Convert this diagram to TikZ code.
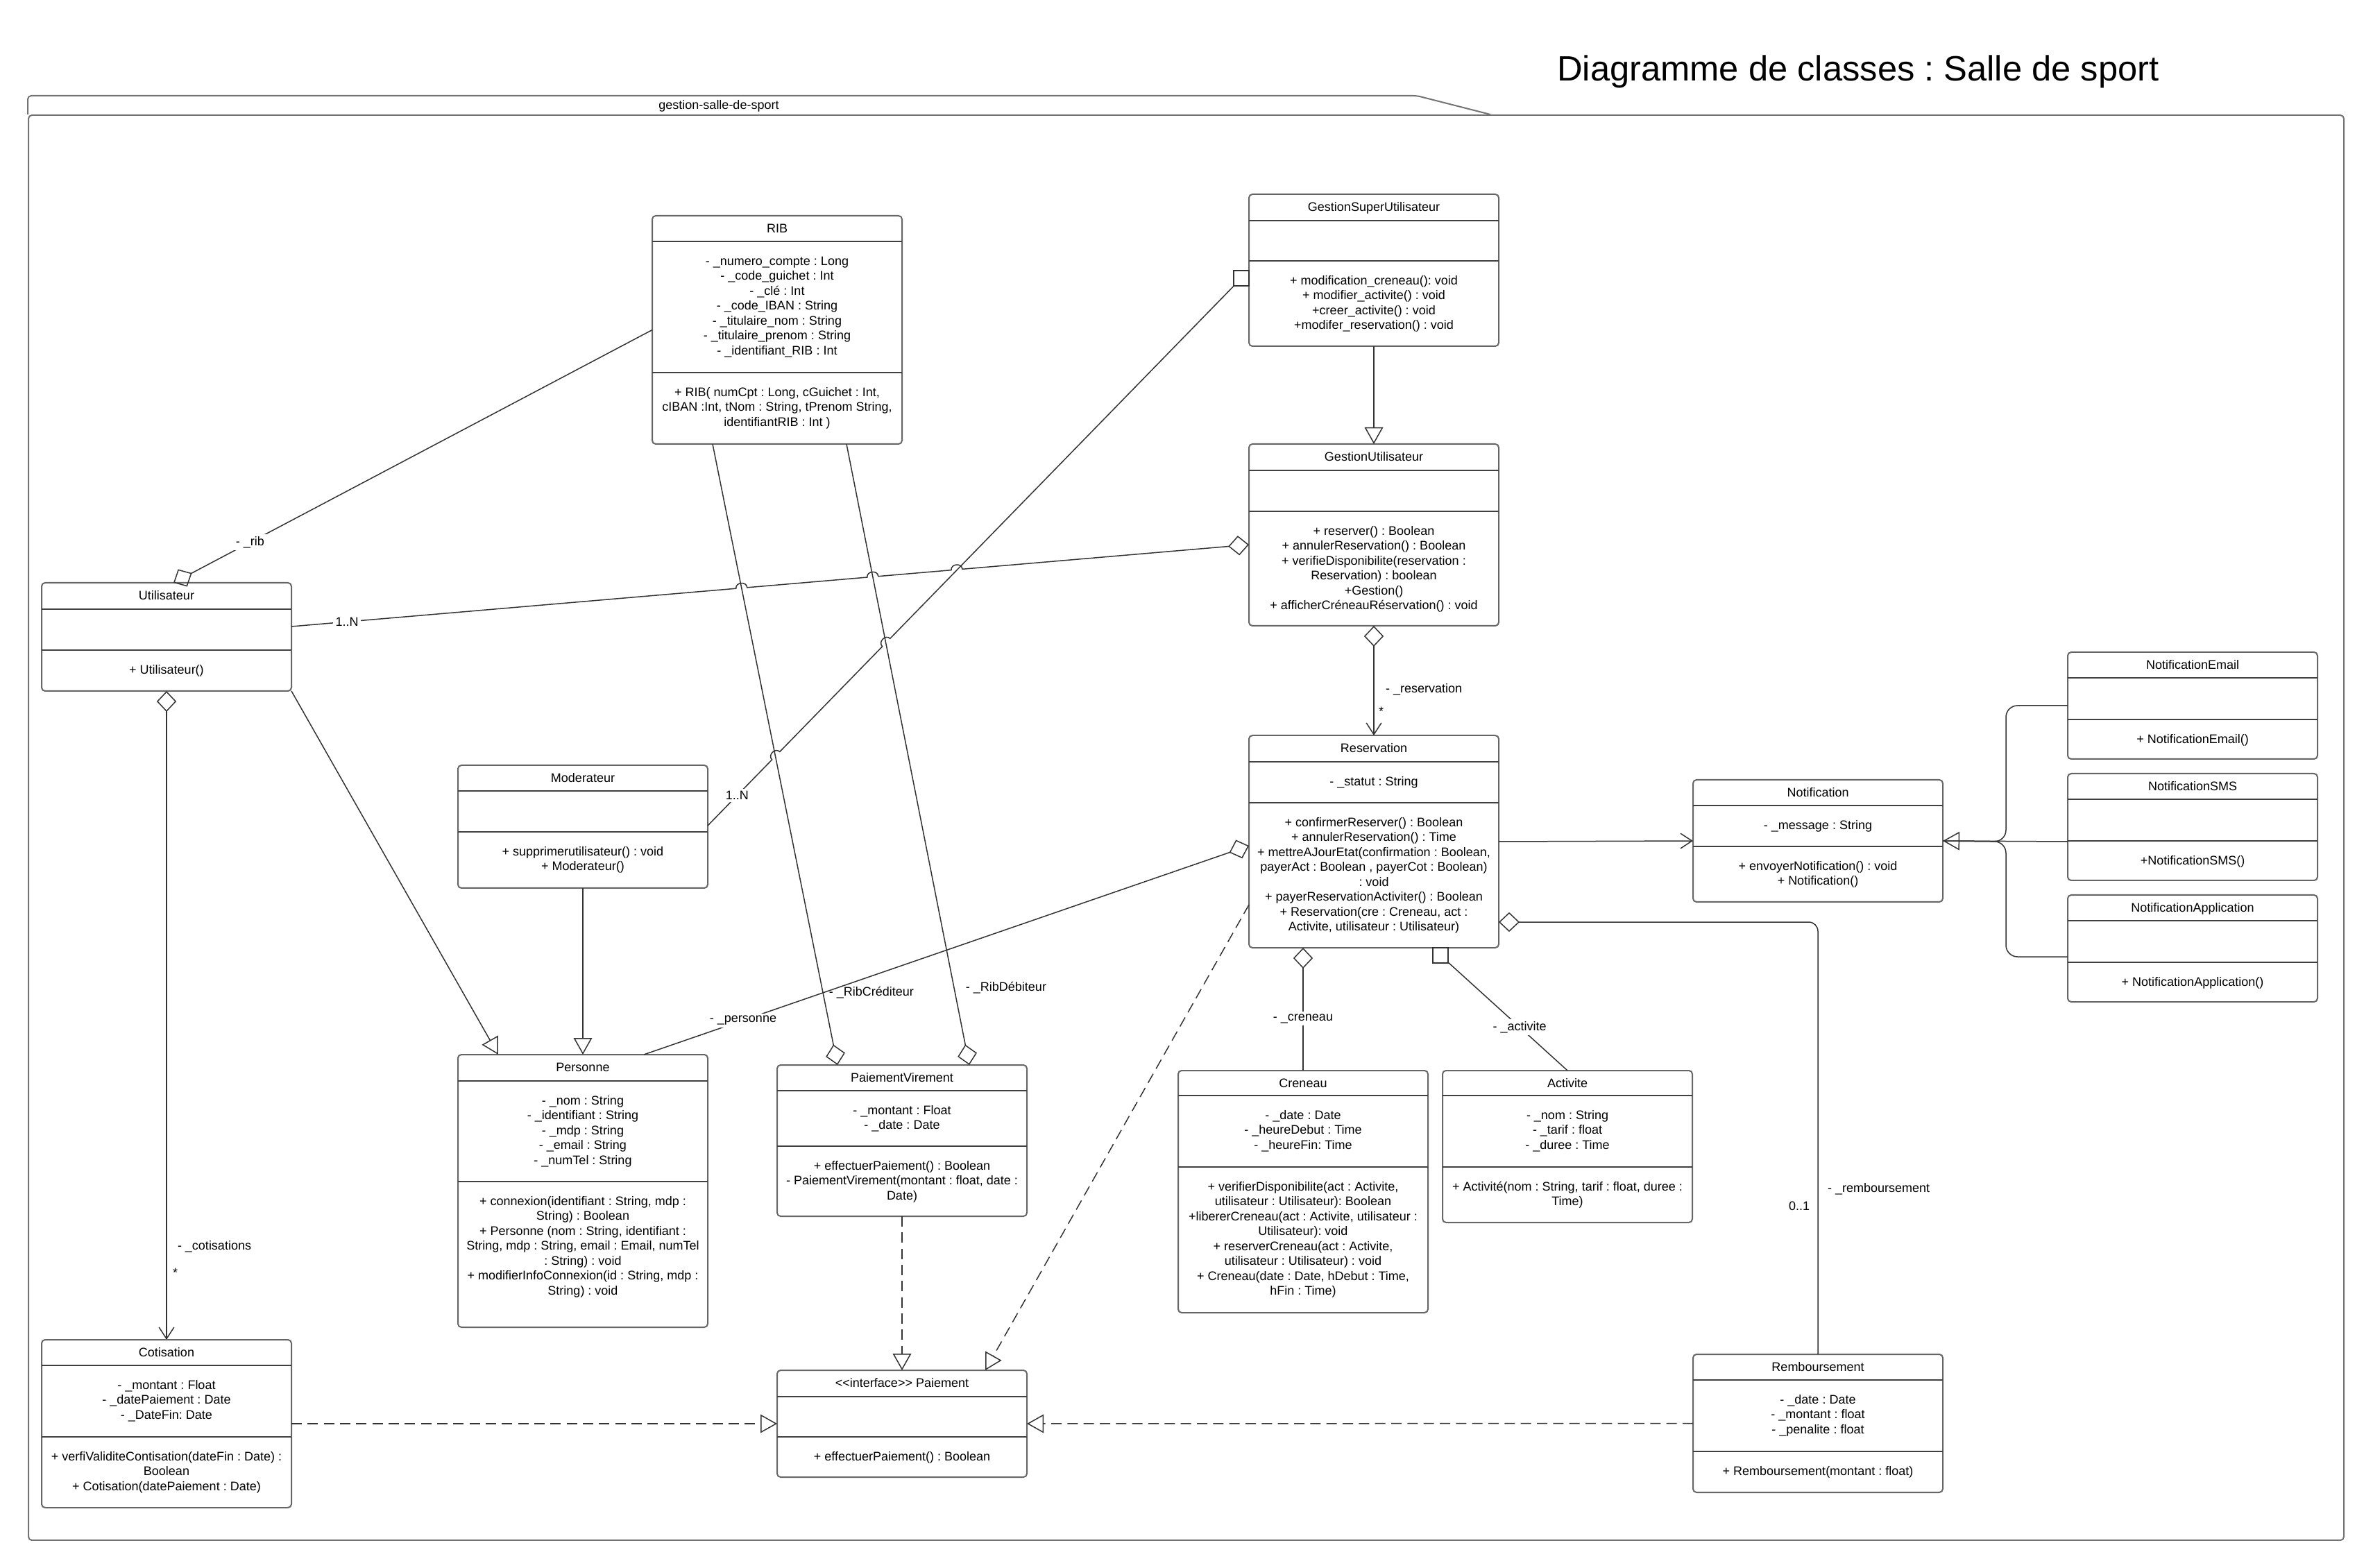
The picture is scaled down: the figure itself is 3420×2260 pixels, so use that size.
\documentclass[tikz,border=0pt]{standalone}
\usepackage{fontspec}
\setmainfont{Liberation Sans}
\usetikzlibrary{arrows.meta,calc}
\frenchspacing
\newcommand{\boxfont}{\fontsize{5.4}{6.45}\selectfont}
\tikzset{
  classbox/.style={draw=black!60, line width=0.6pt, rounded corners=1.5pt, inner sep=0pt, outer sep=0pt},
  sepline/.style={draw=black!75, line width=0.5pt},
  ctext/.style={anchor=north, inner sep=0pt, align=center, font=\boxfont, text=black},
  conn/.style={draw=black!80, line width=0.45pt},
  dconn/.style={conn, dash pattern=on 4.5pt off 2.5pt},
  lbl/.style={font=\boxfont, inner sep=1pt, text=black},
  lblw/.style={lbl, fill=white},
  sqnode/.style={draw=black!80, line width=0.45pt, fill=white, minimum width=6.6pt, minimum height=6.6pt, inner sep=0pt, outer sep=0pt},
  udia/.tip={Diamond[open, length=9pt, width=8.5pt]},
  utri/.tip={Triangle[open, length=7.2pt, width=8pt]},
  uvee/.tip={Straight Barb[length=5pt, width=6.5pt]},
  pkgline/.style={draw=black!55, line width=0.6pt},
}
\newcommand{\umlbox}[7]{%
  \pgfmathsetmacro\ux{(#2+#4)/2}%
  \pgfmathsetmacro\uy{(#3+#5)/2}%
  \pgfmathsetmacro\uw{(#4-#2)*0.3}%
  \pgfmathsetmacro\uh{(#5-#3)*0.3}%
  \pgfmathsetmacro\ut{#3+8.5}%
  \pgfmathsetmacro\ua{#6+18.5}%
  \pgfmathsetmacro\um{#7+18.5}%
  \node[classbox, minimum width=\uw pt, minimum height=\uh pt] (#1) at (\ux,\uy) {};
  \draw[sepline] (#2,#6) -- (#4,#6);
  \draw[sepline] (#2,#7) -- (#4,#7);
  \coordinate (#1-t) at (\ux,\ut);
  \coordinate (#1-a) at (\ux,\ua);
  \coordinate (#1-m) at (\ux,\um);
}
\newcommand{\umltext}[4]{%
  \node[ctext] (#1-title) at (#1-t) {\strut #2};
  \node[ctext] (#1-attrs) at (#1-a) {\strut #3};
  \node[ctext] (#1-meth) at (#1-m) {\strut #4};
}
\begin{document}
\begin{tikzpicture}[x=0.3pt, y=-0.3pt]
\useasboundingbox (0,0) rectangle (3420,2260);
\fill[white] (0,0) rectangle (3420,2260);

% title and package
\node[font=\fontsize{15.2}{18}\selectfont, inner sep=0pt] (title) at (2678,103) {Diagramme de classes : Salle de sport};
\node[pkgline, rounded corners=1.5pt, minimum width=1001.1pt, minimum height=616.2pt, inner sep=0pt] (pkg) at (1709.5,1193) {};
\draw[pkgline, rounded corners=1.5pt] (pkg.north west) |- ($(pkg.north west)+(2002,-27)$) [sharp corners] -- ($(pkg.north west)+(2108,0)$);
\node[lbl] (pkgname) at (1036,153) {gestion-salle-de-sport};

% classes
\umlbox{RIB}{940}{311}{1300}{640}{348}{537}
\umltext{RIB}{RIB}{- \_numero\_compte : Long\\ - \_code\_guichet : Int\\ - \_clé : Int\\ - \_code\_IBAN : String\\ - \_titulaire\_nom : String\\ - \_titulaire\_prenom : String\\ - \_identifiant\_RIB : Int}{+ RIB( numCpt : Long, cGuichet : Int,\\ cIBAN :Int, tNom : String, tPrenom String,\\ identifiantRIB : Int )}

\umlbox{GSU}{1800}{280}{2160}{499}{318}{376}
\umltext{GSU}{GestionSuperUtilisateur}{}{+ modification\_creneau(): void\\ + modifier\_activite() : void\\ +creer\_activite() : void\\ +modifer\_reservation() : void}

\umlbox{GU}{1800}{640}{2160}{902}{678}{737}
\umltext{GU}{GestionUtilisateur}{}{+ reserver() : Boolean\\ + annulerReservation() : Boolean\\ + verifieDisponibilite(reservation :\\ Reservation) : boolean\\ +Gestion()\\ + afficherCréneauRéservation() : void}

\umlbox{Res}{1800}{1060}{2160}{1366}{1098}{1157}
\umltext{Res}{Reservation}{- \_statut : String}{+ confirmerReserver() : Boolean\\ + annulerReservation() : Time\\ + mettreAJourEtat(confirmation : Boolean,\\ payerAct : Boolean , payerCot : Boolean)\\ : void\\ + payerReservationActiviter() : Boolean\\ + Reservation(cre : Creneau, act :\\ Activite, utilisateur : Utilisateur)}

\umlbox{Util}{60}{840}{420}{996}{878}{937}
\umltext{Util}{Utilisateur}{}{+ Utilisateur()}

\umlbox{Mod}{660}{1103}{1020}{1280}{1140}{1199}
\umltext{Mod}{Moderateur}{}{+ supprimerutilisateur() : void\\ + Moderateur()}

\umlbox{Pers}{660}{1520}{1020}{1913}{1558}{1703}
\umltext{Pers}{Personne}{- \_nom : String\\ - \_identifiant : String\\ - \_mdp : String\\ - \_email : String\\ - \_numTel : String}{+ connexion(identifiant : String, mdp :\\ String) : Boolean\\ + Personne (nom : String, identifiant :\\ String, mdp : String, email : Email, numTel\\ : String) : void\\ + modifierInfoConnexion(id : String, mdp :\\ String) : void}

\umlbox{PV}{1120}{1535}{1480}{1753}{1572}{1652}
\umltext{PV}{PaiementVirement}{- \_montant : Float\\ - \_date : Date}{+ effectuerPaiement() : Boolean\\ - PaiementVirement(montant : float, date :\\ Date)}

\umlbox{Cren}{1698}{1543}{2058}{1892}{1579}{1682}
\umltext{Cren}{Creneau}{- \_date : Date\\ - \_heureDebut : Time\\ - \_heureFin: Time}{+ verifierDisponibilite(act : Activite,\\ utilisateur : Utilisateur): Boolean\\ +libererCreneau(act : Activite, utilisateur :\\ Utilisateur): void\\ + reserverCreneau(act : Activite,\\ utilisateur : Utilisateur) : void\\ + Creneau(date : Date, hDebut : Time,\\ hFin : Time)}

\umlbox{Act}{2079}{1543}{2439}{1762}{1579}{1682}
\umltext{Act}{Activite}{- \_nom : String\\ - \_tarif : float\\ - \_duree : Time}{+ Activité(nom : String, tarif : float, duree :\\ Time)}

\umlbox{Notif}{2440}{1124}{2800}{1300}{1161}{1220}
\umltext{Notif}{Notification}{- \_message : String}{+ envoyerNotification() : void\\ + Notification()}

\umlbox{NEmail}{2980}{940}{3340}{1094}{977}{1037}
\umltext{NEmail}{NotificationEmail}{}{+ NotificationEmail()}

\umlbox{NSMS}{2980}{1115}{3340}{1269}{1152}{1212}
\umltext{NSMS}{NotificationSMS}{}{+NotificationSMS()}

\umlbox{NApp}{2980}{1290}{3340}{1444}{1327}{1387}
\umltext{NApp}{NotificationApplication}{}{+ NotificationApplication()}

\umlbox{Cot}{60}{1931}{420}{2173}{1968}{2071}
\umltext{Cot}{Cotisation}{- \_montant : Float\\ - \_datePaiement : Date\\ - \_DateFin: Date}{+ verfiValiditeContisation(dateFin : Date) :\\ Boolean\\ + Cotisation(datePaiement : Date)}

\umlbox{Pay}{1120}{1975}{1480}{2129}{2013}{2071}
\umltext{Pay}{<\kern0pt<interface>\kern0pt> Paiement}{}{+ effectuerPaiement() : Boolean}

\umlbox{Remb}{2440}{1952}{2800}{2151}{1989}{2092}
\umltext{Remb}{Remboursement}{- \_date : Date\\ - \_montant : float\\ - \_penalite : float}{+ Remboursement(montant : float)}

% square ends
\node[sqnode] (sqGSU) at ($(GSU.north west)+(-11,121)$) {};
\node[sqnode] (sqRes) at ($(Res.south west)+(276,11)$) {};

% connector end points
\coordinate (cS) at ($(Util.north east)+(0,63)$);
\coordinate (cE) at ($(GU.north west)+(0,145)$);
\coordinate (dS) at ($(Mod.north east)+(0,87)$);

% connectors
\draw[conn, udia-] ($(Util.north west)+(190,0)$) -- node[lblw, pos=0.16] (lrib) {- \_rib} (RIB.west);
% Utilisateur -- GestionUtilisateur (with line hops)
\draw[conn, -udia] (cS)
  -- ($(cS)!0.4643!(cE)$) .. controls ($(cS)!0.4643!(cE)!2.8pt!90:(cE)$) and ($(cS)!0.4759!(cE)!2.8pt!-90:(cS)$) .. ($(cS)!0.4759!(cE)$)
  -- ($(cS)!0.6013!(cE)$) .. controls ($(cS)!0.6013!(cE)!2.8pt!90:(cE)$) and ($(cS)!0.6129!(cE)!2.8pt!-90:(cS)$) .. ($(cS)!0.6129!(cE)$)
  -- ($(cS)!0.6891!(cE)$) .. controls ($(cS)!0.6891!(cE)!2.8pt!90:(cE)$) and ($(cS)!0.7007!(cE)!2.8pt!-90:(cS)$) .. ($(cS)!0.7007!(cE)$)
  -- (cE);
\node[lblw] (lun1) at ($(cS)!0.058!(cE)$) {1..N};
% Moderateur -- GestionSuperUtilisateur (with line hops)
\draw[conn] (dS)
  -- ($(dS)!0.1204!(sqGSU)$) .. controls ($(dS)!0.1204!(sqGSU)!2.8pt!90:(sqGSU)$) and ($(dS)!0.1350!(sqGSU)!2.8pt!-90:(dS)$) .. ($(dS)!0.1350!(sqGSU)$)
  -- ($(dS)!0.3272!(sqGSU)$) .. controls ($(dS)!0.3272!(sqGSU)!2.8pt!90:(sqGSU)$) and ($(dS)!0.3418!(sqGSU)!2.8pt!-90:(dS)$) .. ($(dS)!0.3418!(sqGSU)$)
  -- (sqGSU);
\node[lblw] (lun2) at ($(dS)!0.055!(sqGSU)$) {1..N};
\draw[conn, udia-] ($(Res.north west)+(0,159)$) -- node[lblw, pos=0.836] (lpers) {- \_personne} ($(Pers.north west)+(268,0)$);
\draw[dconn, -utri] ($(Res.north west)+(0,244)$) -- ($(Pay.north west)+(300,0)$);
\draw[conn, -udia] ($(RIB.south west)+(87,0)$) -- ($(PV.north west)+(87,0)$);
\draw[conn, -udia] ($(RIB.south west)+(280,0)$) -- ($(PV.north west)+(277,0)$);
\node[lbl] (lcred) at (1256,1431) {- \_RibCréditeur};
\node[lbl] (ldeb) at (1450,1424) {- \_RibDébiteur};
\draw[conn, -utri] (Util.south east) -- ($(Pers.north west)+(58,0)$);
\draw[conn, -utri] (Mod.south) -- (Pers.north);
\draw[conn, udia-uvee] (Util.south) -- (Cot.north);
\node[lbl, anchor=west] (lcot) at (252,1797) {- \_cotisations};
\node[lbl, anchor=west] (lcotm) at (245,1834) {*};
\draw[dconn, -utri] (PV.south) -- (Pay.north);
\draw[dconn, -utri] (Cot.east) -- (Pay.west);
\draw[dconn, -utri] (Remb.west) -- (Pay.east);
\draw[conn, -utri] (GSU.south) -- (GU.north);
\draw[conn, udia-uvee] (GU.south) -- (Res.north);
\node[lbl, anchor=west] (lres) at (1993,994) {- \_reservation};
\node[lbl, anchor=west] (lresm) at (1983,1025) {*};
\draw[conn, -uvee] (Res.east) -- (Notif.west);
\draw[conn, udia-] ($(Res.south west)+(78,0)$) -- node[lblw, pos=0.576] (lcren) {- \_creneau} (Cren.north);
\draw[conn] (sqRes) -- node[lblw, pos=0.6] (lact) {- \_activite} (Act.north);
\draw[conn, udia-, rounded corners=4pt] ($(Res.north east)+(0,269)$) -| (Remb.north);
\node[lbl, anchor=west] (lremb) at (2630,1714) {- \_remboursement};
\node[lbl, anchor=east] (lrembm) at (2612,1738) {0..1};
\coordinate (nj) at (2891,1213);
\draw[conn, rounded corners=5pt] (NEmail.west) -| (nj) -- (Notif.east);
\draw[conn, rounded corners=5pt] ($(NApp.north west)+(0,89)$) -| (nj) -- (Notif.east);
\draw[conn, -utri] ($(NSMS.north west)+(0,98)$) -- (Notif.east);
\end{tikzpicture}
\end{document}
